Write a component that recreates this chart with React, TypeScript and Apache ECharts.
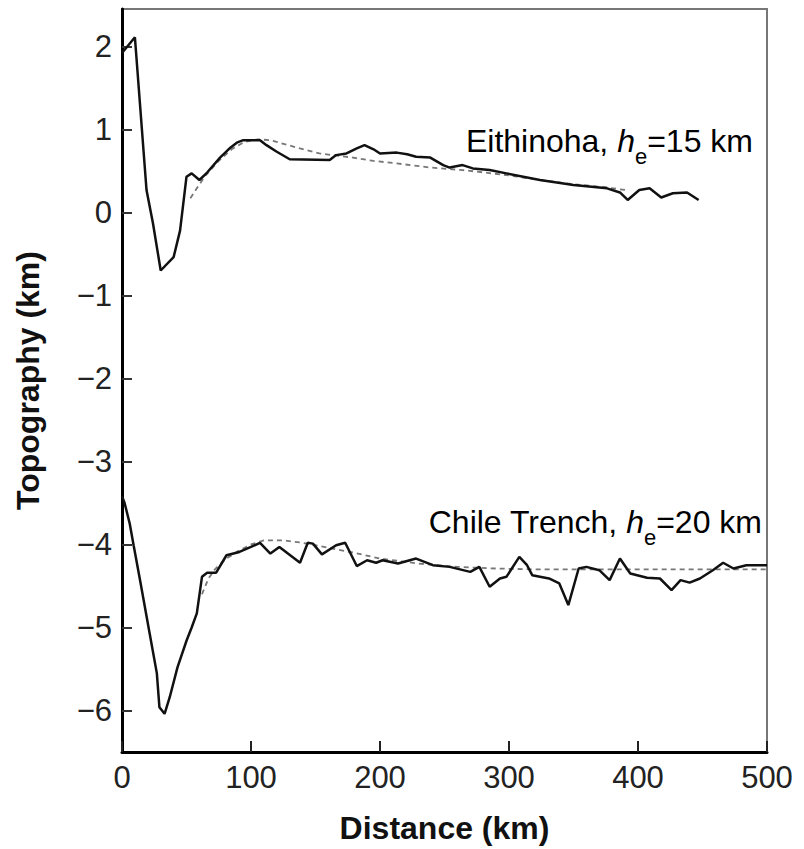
import React, { useEffect, useRef } from "react";
import * as echarts from "echarts";

const xTicks = [0, 100, 200, 300, 400, 500];
const yTicks = [-6, -5, -4, -3, -2, -1, 0, 1, 2];

// Eithinoha observed topography (distance km, topography km)
const ethDist = [0, 10, 19, 24, 30, 40, 45, 50, 54, 60, 66, 76, 84, 89, 94, 107, 112, 120, 130, 161, 166, 174, 182, 188, 195, 200, 213, 221, 228, 239, 249, 254, 264, 272, 285, 298, 324, 350, 376, 386, 392, 401, 409, 418, 427, 438, 447];
const ethTopo = [1.92, 2.11, 0.27, -0.13, -0.70, -0.54, -0.22, 0.43, 0.47, 0.39, 0.48, 0.66, 0.78, 0.84, 0.87, 0.87, 0.81, 0.73, 0.64, 0.63, 0.69, 0.71, 0.77, 0.81, 0.76, 0.71, 0.72, 0.70, 0.67, 0.66, 0.57, 0.54, 0.57, 0.53, 0.51, 0.47, 0.39, 0.33, 0.29, 0.24, 0.15, 0.27, 0.29, 0.18, 0.23, 0.24, 0.15];

// Eithinoha model (elastic plate, he = 15 km)
const ethModelDist = [53, 58, 65, 75, 85, 95, 105, 115, 122, 138, 153, 179, 195, 213, 239, 264, 298, 324, 350, 376, 390];
const ethModelTopo = [0.17, 0.29, 0.45, 0.62, 0.76, 0.85, 0.88, 0.87, 0.84, 0.77, 0.71, 0.66, 0.62, 0.59, 0.54, 0.51, 0.45, 0.39, 0.34, 0.30, 0.27];

// Chile Trench observed topography
const chiDist = [0, 2, 6, 9, 14, 22, 27, 29, 33, 37, 43, 50, 54, 58, 62, 66, 73, 81, 91, 100, 107, 115, 122, 138, 144, 148, 155, 166, 173, 182, 190, 197, 202, 214, 228, 241, 254, 270, 277, 285, 293, 298, 308, 314, 318, 331, 339, 346, 354, 360, 370, 378, 386, 394, 407, 417, 426, 433, 440, 448, 458, 466, 474, 484, 500];
const chiTopo = [-3.42, -3.5, -3.75, -4.01, -4.43, -5.12, -5.55, -5.96, -6.04, -5.84, -5.48, -5.16, -5.0, -4.83, -4.39, -4.34, -4.34, -4.13, -4.09, -4.03, -3.98, -4.11, -4.03, -4.22, -3.98, -3.99, -4.12, -4.01, -3.98, -4.26, -4.19, -4.22, -4.19, -4.23, -4.17, -4.25, -4.27, -4.33, -4.27, -4.51, -4.41, -4.39, -4.15, -4.25, -4.37, -4.41, -4.47, -4.73, -4.29, -4.27, -4.31, -4.43, -4.17, -4.35, -4.40, -4.41, -4.55, -4.43, -4.46, -4.41, -4.31, -4.22, -4.29, -4.25, -4.25];

// Chile Trench model (elastic plate, he = 20 km)
const chiModelDist = [62, 67, 72, 80, 90, 100, 110, 125, 140, 160, 180, 200, 230, 260, 290, 320, 360, 400, 450, 500];
const chiModelTopo = [-4.6, -4.41, -4.3, -4.18, -4.08, -4.0, -3.95, -3.95, -3.98, -4.04, -4.1, -4.17, -4.23, -4.27, -4.29, -4.3, -4.3, -4.3, -4.3, -4.3];

const profileNames = ["Eithinoha", "Chile Trench"];
const elasticThickness = [15, 20];

const FONT = "'Liberation Sans', Arial, Helvetica, sans-serif";

const zip = (xs: number[], ys: number[]) => xs.map((x, i) => [x, ys[i]]);

const richStyles = {
  n: { fontSize: 32, fontFamily: FONT, color: "#111", verticalAlign: "top" },
  i: { fontSize: 32, fontFamily: FONT, color: "#111", fontStyle: "italic", verticalAlign: "top" },
  s: { fontSize: 22, fontFamily: FONT, color: "#111", verticalAlign: "top", padding: [20, 0, 0, 0] },
};

const labelText = (k: number) =>
  `{n|${profileNames[k]}, }{i|h}{s|e}{n|=${elasticThickness[k]} km}`;

export default function App() {
  const ref = useRef<HTMLDivElement>(null);
  useEffect(() => {
    if (!ref.current) return;
    const chart = echarts.init(ref.current, undefined, { renderer: "svg" });
    chart.setOption({
      animation: false,
      backgroundColor: "#fff",
      grid: {
        left: 122,
        right: 37,
        top: 9,
        bottom: 97,
        show: true,
        borderColor: "#777",
        borderWidth: 2,
        backgroundColor: "transparent",
      },
      xAxis: {
        type: "value",
        min: 0,
        max: 500,
        interval: 100,
        axisLine: { show: true, onZero: false, lineStyle: { color: "#000", width: 3 } },
        axisTick: { show: true, inside: true, length: 11, lineStyle: { color: "#222", width: 2 } },
        axisLabel: {
          fontSize: 31,
          color: "#222",
          margin: 10,
          fontFamily: FONT,
          customValues: xTicks,
        },
        splitLine: { show: false },
        name: "Distance (km)",
        nameLocation: "middle",
        nameGap: 60,
        nameTextStyle: { fontSize: 32, fontWeight: "bold", color: "#111", fontFamily: FONT },
      },
      yAxis: {
        type: "value",
        min: -6.5,
        max: 2.45,
        axisLine: { show: true, onZero: false, lineStyle: { color: "#000", width: 3 } },
        axisTick: {
          show: true,
          inside: true,
          length: 10,
          customValues: yTicks,
          lineStyle: { color: "#333", width: 2 },
        },
        axisLabel: {
          fontSize: 31,
          color: "#222",
          margin: 10,
          fontFamily: FONT,
          customValues: yTicks,
          formatter: (v: number) => String(v).replace("-", "\u2212"),
        },
        splitLine: { show: false },
        name: "Topography (km)",
        nameLocation: "middle",
        nameGap: 78,
        nameRotate: 90,
        nameTextStyle: { fontSize: 32, fontWeight: "bold", color: "#111", fontFamily: FONT },
      },
      series: [
        {
          type: "line",
          data: zip(ethModelDist, ethModelTopo),
          symbol: "none",
          z: 1,
          lineStyle: { color: "#777", width: 1.8, type: [5, 4] },
        },
        {
          type: "line",
          data: zip(chiModelDist, chiModelTopo),
          symbol: "none",
          z: 1,
          lineStyle: { color: "#777", width: 1.8, type: [5, 4] },
        },
        {
          type: "line",
          data: zip(ethDist, ethTopo),
          symbol: "none",
          z: 2,
          lineStyle: { color: "#111", width: 2.5 },
        },
        {
          type: "line",
          data: zip(chiDist, chiTopo),
          symbol: "none",
          z: 2,
          lineStyle: { color: "#111", width: 2.5 },
        },
      ],
      graphic: [
        {
          type: "text",
          x: 753,
          y: 125,
          style: { text: labelText(0), rich: richStyles, align: "right", verticalAlign: "top" },
        },
        {
          type: "text",
          x: 762,
          y: 506,
          style: { text: labelText(1), rich: richStyles, align: "right", verticalAlign: "top" },
        },
      ],
    });
    return () => chart.dispose();
  }, []);
  return (
    <div
      ref={ref}
      style={{ position: "absolute", left: 0, top: 0, width: 804, height: 849 }}
    />
  );
}
